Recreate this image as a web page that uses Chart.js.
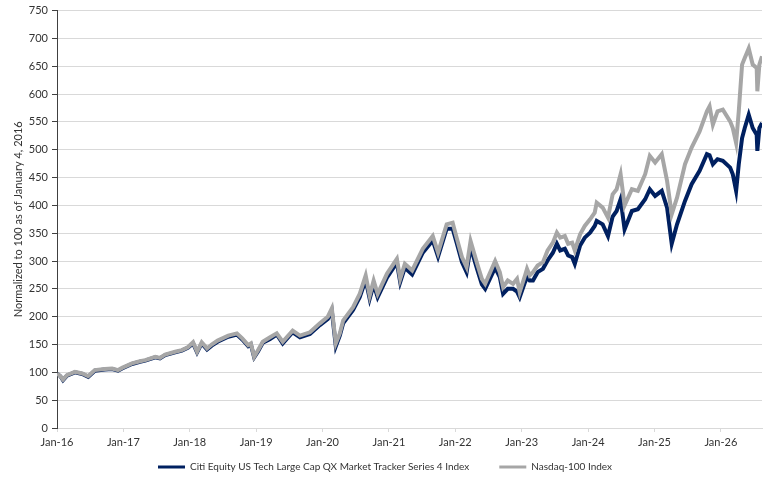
<!DOCTYPE html>
<html>
<head>
<meta charset="utf-8">
<script src="https://cdn.jsdelivr.net/npm/chart.js@4.4.1/dist/chart.umd.min.js"></script>
<style>
  html, body { margin: 0; padding: 0; background: #fff; }
  #wrap { width: 774px; height: 485px; }
</style>
</head>
<body>
<div id="wrap"><canvas id="perfChart"></canvas></div>
<script>
// dates as decimal years
const dates = [
  2016.00, 2016.05, 2016.09, 2016.15, 2016.27, 2016.38, 2016.47, 2016.57, 2016.72, 2016.83, 2016.92, 2016.98,
  2017.13, 2017.25, 2017.33, 2017.48, 2017.55, 2017.63, 2017.78, 2017.88, 2017.97,
  2018.05, 2018.11, 2018.18, 2018.26, 2018.33, 2018.42, 2018.58, 2018.71, 2018.79, 2018.88, 2018.92, 2018.97,
  2019.03, 2019.10, 2019.21, 2019.31, 2019.40, 2019.55, 2019.66, 2019.81, 2019.96,
  2020.08, 2020.14, 2020.20, 2020.26, 2020.31, 2020.46, 2020.56, 2020.65, 2020.71, 2020.77, 2020.83, 2020.97,
  2021.12, 2021.17, 2021.24, 2021.35, 2021.51, 2021.66, 2021.74, 2021.87, 2021.96,
  2022.02, 2022.10, 2022.17, 2022.23, 2022.33, 2022.40, 2022.45, 2022.60,
  2022.67, 2022.72, 2022.79, 2022.87, 2022.93, 2022.97, 2023.05, 2023.08, 2023.12, 2023.17, 2023.24, 2023.32,
  2023.39, 2023.47, 2023.53, 2023.58, 2023.65, 2023.70, 2023.76, 2023.80, 2023.88, 2023.95, 2024.03, 2024.10,
  2024.13, 2024.22, 2024.30, 2024.37, 2024.43, 2024.49, 2024.55, 2024.66, 2024.75, 2024.86, 2024.93,
  2025.01, 2025.11, 2025.19, 2025.26, 2025.34, 2025.46, 2025.56, 2025.68, 2025.79, 2025.83, 2025.88, 2025.95,
  2026.03, 2026.14, 2026.18, 2026.23, 2026.27, 2026.32, 2026.36, 2026.42, 2026.48, 2026.54, 2026.55, 2026.58, 2026.62
];

const citi = [
  98, 93, 86, 94, 100, 97, 92, 103, 105, 106, 103, 107,
  115, 119, 121, 127, 125, 131, 136, 139, 144,
  152, 136, 152, 141, 148, 155, 164, 168, 159, 147, 150, 127,
  138, 153, 160, 168, 152, 172, 163, 169, 185,
  196, 210, 147, 166, 188, 212, 235, 266, 232, 258, 235, 270,
  297, 262, 288, 276, 315, 337, 308, 358, 358,
  333, 298, 280, 325, 285, 258, 250, 288,
  271, 241, 250, 250, 245, 235, 262, 271, 265, 265, 280, 286,
  301, 315, 331, 319, 322, 310, 307, 295, 328, 342, 351, 363,
  372, 366, 345, 380, 390, 411, 357, 390, 393, 411, 429,
  417, 426, 396, 331, 366, 408, 438, 462, 492, 490, 474, 483,
  480, 468, 456, 426, 474, 521, 539, 563, 539, 527, 498, 539, 548
];

const nasdaq = [
  98, 93, 87, 95, 101, 98, 93, 104, 106, 107, 104, 108,
  116, 120, 122, 128, 126, 132, 137, 140, 145,
  154, 137, 154, 143, 150, 157, 166, 170, 161, 149, 152, 128,
  140, 155, 163, 170, 155, 175, 166, 172, 188,
  200, 215, 152, 170, 193, 217, 241, 274, 238, 265, 241, 277,
  304, 268, 295, 283, 322, 345, 315, 366, 369,
  342, 307, 289, 336, 295, 268, 259, 300,
  280, 253, 265, 259, 268, 244, 274, 286, 274, 280, 292, 298,
  319, 333, 351, 342, 345, 331, 333, 319, 348, 363, 375, 387,
  405, 396, 378, 420, 429, 456, 400, 429, 426, 456, 489,
  477, 492, 444, 384, 414, 474, 504, 533, 569, 578, 545, 569,
  572, 551, 539, 512, 569, 653, 665, 682, 653, 647, 605, 653, 668
];

const seriesNames = ['Citi Equity US Tech Large Cap QX Market Tracker Series 4 Index', 'Nasdaq-100 Index'];
const yTicks = [0, 50, 100, 150, 200, 250, 300, 350, 400, 450, 500, 550, 600, 650, 700, 750];
const xTickYears = [2016, 2017, 2018, 2019, 2020, 2021, 2022, 2023, 2024, 2025, 2026];

Chart.defaults.font.family = 'Lato, "Open Sans", sans-serif';
Chart.defaults.font.size = 11;
Chart.defaults.color = '#333';

const LEGEND_GAP = 30;     // horizontal gap between legend items
const LEGEND_HEIGHT = 33;  // space kept for the legend row

// keep a wide gap between legend items without a tall legend box
const legendFitPlugin = {
  id: 'legendFit',
  beforeLayout(chart) {
    const lg = chart.legend;
    if (lg && !lg._fitPatched) {
      const fit = lg.fit;
      lg.fit = function () { fit.call(this); this.height = LEGEND_HEIGHT; };
      lg._fitPatched = true;
    }
  },
  afterLayout(chart) {
    if (chart.legend) chart.legend.top -= (LEGEND_GAP - 10);
  }
};

const toPoints = vals => vals.map((v, i) => ({ x: dates[i], y: v }));

new Chart(document.getElementById('perfChart'), {
  type: 'line',
  data: {
    datasets: [
      { label: seriesNames[0], data: toPoints(citi), borderColor: '#002060', backgroundColor: '#002060',
        borderWidth: 4, pointRadius: 0, tension: 0, order: 1 },
      { label: seriesNames[1], data: toPoints(nasdaq), borderColor: '#a6a6a6', backgroundColor: '#a6a6a6',
        borderWidth: 4, pointRadius: 0, tension: 0, order: 0 }
    ]
  },
  plugins: [legendFitPlugin],
  options: {
    responsive: true,
    maintainAspectRatio: false,
    animation: false,
    layout: { padding: { left: 8, right: 12, top: 3, bottom: 0 } },
    plugins: {
      tooltip: { enabled: false },
      legend: {
        position: 'bottom',
        labels: {
          boxWidth: 27,
          boxHeight: 3,
          padding: LEGEND_GAP,
          font: { size: 10 },
          sort: (a, b) => a.datasetIndex - b.datasetIndex,
          generateLabels: chart => Chart.defaults.plugins.legend.labels.generateLabels(chart)
            .map(l => Object.assign(l, { lineWidth: 0 }))
        }
      }
    },
    scales: {
      x: {
        type: 'linear',
        min: 2016,
        max: 2026.62,
        afterBuildTicks: s => { s.ticks = xTickYears.map(v => ({ value: v })); },
        ticks: { callback: v => 'Jan-' + String(v).slice(2), maxRotation: 0, padding: 4 },
        grid: { drawOnChartArea: false, tickLength: 4, color: '#d9d9d9' },
        border: { color: '#d9d9d9' },
        afterFit: s => { s.height = 24; }
      },
      y: {
        min: 0,
        max: 750,
        afterBuildTicks: s => { s.ticks = yTicks.map(v => ({ value: v })); },
        ticks: { padding: 4 },
        grid: { color: '#d9d9d9', tickColor: '#404040', tickLength: 5 },
        border: { color: '#404040' },
        title: { display: true, text: 'Normalized to 100 as of January 4, 2016', padding: { top: 4, bottom: 0 } },
        afterFit: s => { s.width = 49; }
      }
    }
  }
});
</script>
</body>
</html>
